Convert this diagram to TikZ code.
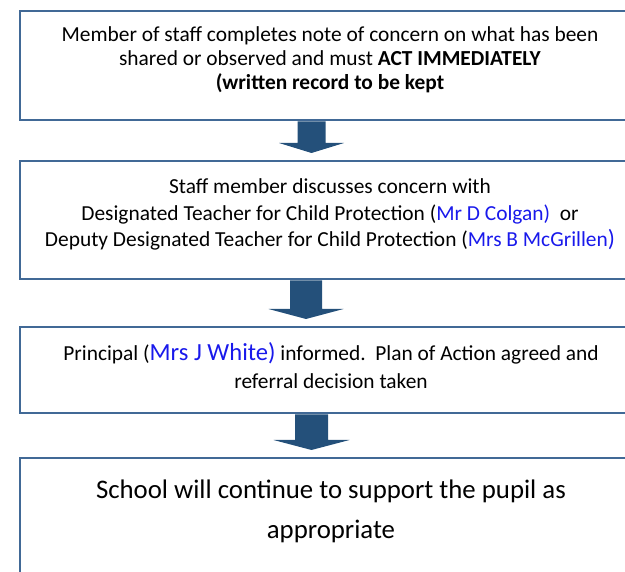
\documentclass[tikz,border=0pt]{standalone}
\usepackage{fontspec}
\setmainfont{Carlito}
\usetikzlibrary{calc}
\definecolor{edgeblue}{RGB}{65,105,150}
\definecolor{arrowfill}{RGB}{36,80,122}
\definecolor{namecol}{RGB}{25,25,235}
\tikzset{
  box/.style={draw=edgeblue,line width=1.6pt,inner sep=0pt,outer sep=0pt,anchor=north west,minimum width=620pt},
  txt/.style={inner sep=0pt,align=center,text=black},
  normtxt/.style={txt,font=\fontsize{21.4}{24}\selectfont},
  midtxt/.style={txt,font=\fontsize{21.4}{26.5}\selectfont},
  widetxt/.style={txt,font=\fontsize{21.4}{28}\selectfont},
  bigtxt/.style={txt,font=\fontsize{26.8}{39.5}\selectfont}
}
\newcommand{\blkarrow}[5]{%
  \path ($(#1.south)+(#3,0)$) coordinate (#1s) ($(#2.north)+(#3,0)$) coordinate (#2n);
  \fill[arrowfill] ($(#1s)+(-#4,1.5)$) -- ($(#1s)+(#4,1.5)$) -- ($(#2n)+(#4,-18)$) -- ($(#2n)+(#5,-18)$)
     -- ($(#2n)+(0,-8)$) -- ($(#2n)+(-#5,-18)$) -- ($(#2n)+(-#4,-18)$) -- cycle;}
\begin{document}
\begin{tikzpicture}[x=1pt,y=-1pt]
\useasboundingbox (0,0) rectangle (625,572);
\clip (0,0) rectangle (625,572);
\node[box,minimum height=109pt] (b1) at (20,11) {};
\node[box,minimum height=118pt] (b2) at (20,161) {};
\node[box,minimum height=86pt] (b3) at (20,327) {};
\node[box,minimum height=170pt] (b4) at (20,458) {};
\blkarrow{b1}{b2}{-18.5}{14}{32.5}
\blkarrow{b2}{b3}{-24}{16}{37.5}
\blkarrow{b3}{b4}{-18.5}{16.5}{38}
\node[normtxt] (t1) at (330,59.5) {Member of staff completes note of concern on what has been\\
  shared or observed and must \textbf{ACT IMMEDIATELY}\\
  \textbf{(written record to be kept}};
\node[midtxt] (t2) at (330,214.5) {Staff member discusses concern with\\
  Designated Teacher for Child Protection (\textcolor{namecol}{Mr D Colgan)}\ \ or\\
  Deputy Designated Teacher for Child Protection (\textcolor{namecol}{Mrs B McGrillen\smash{\fontsize{23.5}{26.5}\selectfont)}}};
\node[widetxt] (t3) at (331,367) {Principal (\smash{\color{namecol}\fontsize{24.6}{28}\selectfont Mrs J White)} informed.\ \ Plan of Action agreed and\\
  referral decision taken};
\node[bigtxt] (t4) at (331,511.5) {School will continue to support the pupil as\\ appropriate};
\end{tikzpicture}
\end{document}
